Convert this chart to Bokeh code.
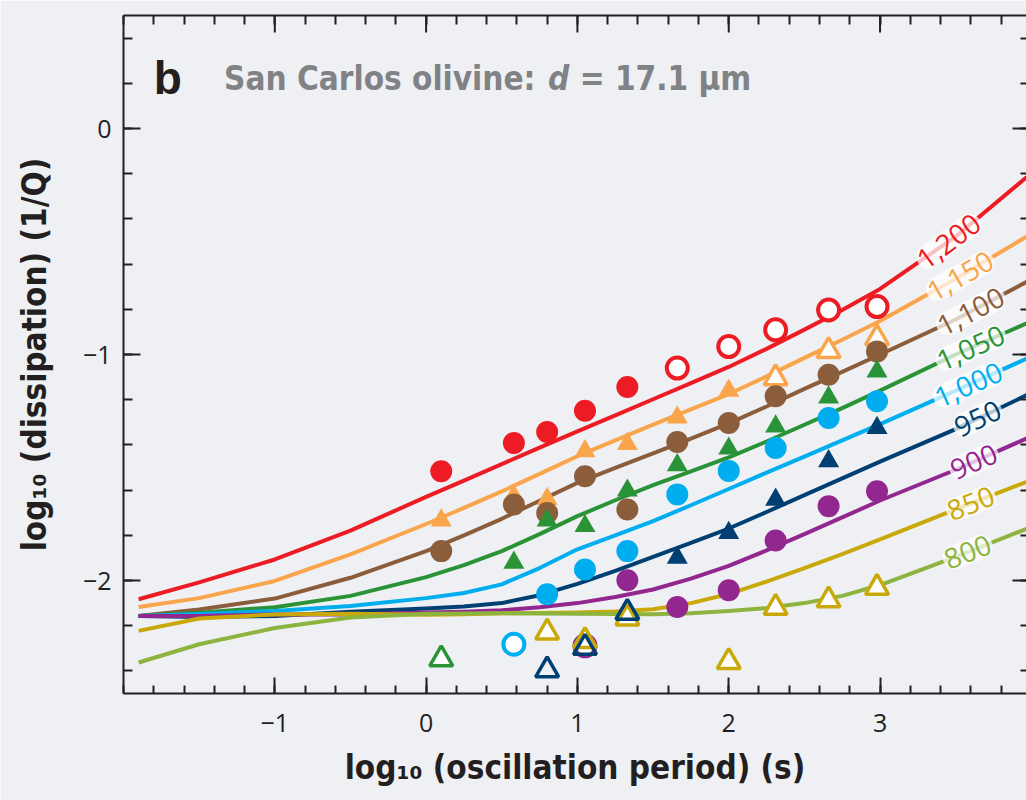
import numpy as np
from bokeh.plotting import figure
from bokeh.models import FixedTicker, Label, LinearAxis, Range1d
from bokeh.embed import file_html
from bokeh.resources import INLINE

BG = "#eff0f4"
INK = "#231f20"
COND = "Liberation Sans Narrow, DejaVu Sans Condensed, Roboto, sans-serif"

# ---- model curves (log10 period vs log10 1/Q) ----
curve_x = [-1.9, -1.5, -1.0, -0.5, 0.0, 0.25, 0.5, 0.75, 1.0, 1.25, 1.5, 1.75,
           2.0, 2.25, 2.5, 2.75, 3.0, 3.5, 3.97]
temps = ["1,200", "1,150", "1,100", "1,050", "1,000", "950", "900", "850", "800"]
colors = ["#ed1c24", "#f9a54b", "#8b5d3b", "#2b9337", "#00aeef",
          "#003f72", "#92278f", "#c9a90a", "#8cb43f"]
curve_1200 = [-2.083, -2.008, -1.907, -1.779, -1.630, -1.558, -1.485, -1.412, -1.340, -1.269,
              -1.198, -1.127, -1.055, -0.975, -0.890, -0.803, -0.710, -0.478, -0.215]
curve_1150 = [-2.117, -2.078, -2.002, -1.884, -1.750, -1.679, -1.606, -1.528, -1.450, -1.380,
              -1.310, -1.243, -1.175, -1.097, -1.015, -0.935, -0.852, -0.665, -0.478]
curve_1100 = [-2.157, -2.128, -2.080, -1.988, -1.870, -1.800, -1.727, -1.647, -1.568, -1.502,
              -1.437, -1.372, -1.305, -1.230, -1.152, -1.077, -1.000, -0.845, -0.678]
curve_1050 = [-2.157, -2.143, -2.118, -2.068, -1.985, -1.932, -1.870, -1.795, -1.715, -1.645,
              -1.578, -1.517, -1.455, -1.385, -1.311, -1.237, -1.160, -1.000, -0.862]
curve_1000 = [-2.157, -2.148, -2.135, -2.113, -2.078, -2.055, -2.017, -1.945, -1.862, -1.800,
              -1.737, -1.667, -1.595, -1.523, -1.452, -1.380, -1.308, -1.160, -1.018]
curve_950 = [-2.157, -2.161, -2.157, -2.138, -2.124, -2.115, -2.100, -2.065, -2.015, -1.957,
             -1.895, -1.834, -1.770, -1.697, -1.622, -1.548, -1.474, -1.330, -1.180]
curve_900 = [-2.157, -2.157, -2.150, -2.150, -2.142, -2.138, -2.132, -2.118, -2.100, -2.073,
             -2.040, -1.992, -1.935, -1.867, -1.795, -1.721, -1.646, -1.510, -1.371]
curve_850 = [-2.223, -2.168, -2.150, -2.147, -2.152, -2.149, -2.145, -2.144, -2.142, -2.137,
             -2.127, -2.100, -2.060, -2.005, -1.945, -1.883, -1.818, -1.685, -1.563]
curve_800 = [-2.363, -2.282, -2.210, -2.164, -2.147, -2.146, -2.145, -2.146, -2.147, -2.148,
             -2.149, -2.145, -2.135, -2.122, -2.100, -2.068, -2.020, -1.895, -1.771]
curves = [curve_1200, curve_1150, curve_1100, curve_1050, curve_1000,
          curve_950, curve_900, curve_850, curve_800]

# ---- measurements ----
red_fill_x = [0.10, 0.58, 0.80, 1.05, 1.33]
red_fill_y = [-1.517, -1.392, -1.343, -1.249, -1.144]
red_open_x = [1.66, 2.00, 2.31, 2.66, 2.98]
red_open_y = [-1.060, -0.965, -0.891, -0.803, -0.788]
orange_fill_x = [0.10, 0.58, 0.80, 1.05, 1.33, 1.66, 2.00]
orange_fill_y = [-1.734, -1.627, -1.639, -1.428, -1.396, -1.278, -1.160]
orange_open_x = [2.31, 2.66, 2.98]
orange_open_y = [-1.105, -0.984, -0.928]
brown_x = [0.10, 0.58, 0.80, 1.05, 1.33, 1.66, 2.00, 2.31, 2.66, 2.98]
brown_y = [-1.870, -1.664, -1.701, -1.539, -1.686, -1.387, -1.303, -1.185, -1.090, -0.987]
green_open_x = [0.10]
green_open_y = [-2.348]
green_fill_x = [0.58, 0.80, 1.05, 1.33, 1.66, 2.00, 2.31, 2.66, 2.98]
green_fill_y = [-1.921, -1.734, -1.759, -1.602, -1.490, -1.416, -1.318, -1.190, -1.075]
cyan_open_x = [0.58]
cyan_open_y = [-2.282]
cyan_fill_x = [0.80, 1.05, 1.33, 1.66, 2.00, 2.31, 2.66, 2.98]
cyan_fill_y = [-2.061, -1.951, -1.870, -1.619, -1.515, -1.414, -1.281, -1.207]
purple_open_x = [1.05]
purple_open_y = [-2.289]
purple_fill_x = [1.33, 1.66, 2.00, 2.31, 2.66, 2.98]
purple_fill_y = [-1.999, -2.117, -2.043, -1.823, -1.671, -1.605]
gold_open_x = [0.80, 1.05, 1.33, 2.00, 2.31, 2.66, 2.98]
gold_open_y = [-2.230, -2.267, -2.167, -2.360, -2.120, -2.087, -2.032]
navy_open_x = [0.80, 1.05, 1.33]
navy_open_y = [-2.397, -2.297, -2.142]
navy_fill_x = [1.66, 2.00, 2.31, 2.66, 2.98]
navy_fill_y = [-1.899, -1.789, -1.642, -1.472, -1.325]

x_major = [-1, 0, 1, 2, 3]
y_major = [-2, -1, 0]

# label placement along each curve (layout only)
label_at = [3.455, 3.53, 3.60, 3.60, 3.585, 3.645, 3.62, 3.60, 3.58]

X0, X1, Y0, Y1 = -2.0, 3.968, -2.5, 0.5
p = figure(width=1026, height=800, x_range=Range1d(X0, X1), y_range=Range1d(Y0, Y1),
           output_backend="svg", toolbar_location=None,
           x_axis_location=None, y_axis_location=None,
           min_border_left=123, min_border_right=0, min_border_top=15, min_border_bottom=107,
           background_fill_color=BG, border_fill_color=BG)
p.outline_line_color = None
for g in p.grid:
    g.visible = False

x_minor = [round(v, 2) for v in np.arange(-2.0, 4.01, 0.2)]
y_minor = [round(v, 2) for v in np.arange(-2.4, 0.41, 0.2)]


def style(ax, tin, min_in):
    ax.axis_line_color = INK
    ax.axis_line_width = 2
    ax.major_tick_line_color = INK
    ax.minor_tick_line_color = INK
    ax.major_tick_line_width = 2
    ax.minor_tick_line_width = 2
    ax.major_tick_in = tin
    ax.major_tick_out = 0
    ax.minor_tick_in = min_in
    ax.minor_tick_out = 0


def fmt(v):
    return ("\u2212" + str(abs(v))) if v < 0 else str(v)


bottom = LinearAxis(ticker=FixedTicker(ticks=x_major, minor_ticks=x_minor))
style(bottom, 16, 8)
bottom.major_label_overrides = {v: fmt(v) for v in x_major}
bottom.major_label_text_font = "Open Sans"
bottom.major_label_text_font_size = "25px"
bottom.major_label_text_color = INK
bottom.major_label_standoff = 20
bottom.axis_label = "log\u2081\u2080 (oscillation period) (s)"
bottom.axis_label_text_font = COND
bottom.axis_label_text_font_style = "bold"
bottom.axis_label_text_font_size = "33px"
bottom.axis_label_text_color = INK
bottom.axis_label_standoff = 13
p.add_layout(bottom, "below")

left = LinearAxis(ticker=FixedTicker(ticks=y_major, minor_ticks=y_minor))
style(left, 17, 9)
left.major_label_overrides = {v: fmt(v) for v in y_major}
left.major_label_text_font = "Open Sans"
left.major_label_text_font_size = "25px"
left.major_label_text_color = INK
left.major_label_standoff = 12
left.axis_label = "log\u2081\u2080 (dissipation) (1/Q)"
left.axis_label_text_font = COND
left.axis_label_text_font_style = "bold"
left.axis_label_text_font_size = "33px"
left.axis_label_text_color = INK
left.axis_label_standoff = 26
p.add_layout(left, "left")

# top and right frame edges: minor ticks from axes (no labels), major ticks as rays
top = LinearAxis(ticker=FixedTicker(ticks=[], minor_ticks=x_minor))
style(top, 17, 9)
p.add_layout(top, "above")

right = LinearAxis(ticker=FixedTicker(ticks=[], minor_ticks=y_minor))
style(right, 14, 6)
right.axis_line_color = None
p.add_layout(right, "right")

p.ray(x=x_major, y=[Y1] * len(x_major), length=17, length_units="screen",
      angle=-np.pi / 2, line_color=INK, line_width=2)
p.ray(x=[X1] * len(y_major), y=y_major, length=14, length_units="screen",
      angle=np.pi, line_color=INK, line_width=2)

# curves
for cy, col in zip(curves, colors):
    p.line(curve_x, cy, line_color=col, line_width=4, line_join="round")

FS, TS, OS, OTS = 22, 21, 21, 23
p.scatter(orange_fill_x, orange_fill_y, marker="triangle", size=TS, fill_color=colors[1], line_color=None)
p.scatter(red_fill_x, red_fill_y, marker="circle", size=FS, fill_color=colors[0], line_color=None)
p.scatter(red_open_x, red_open_y, marker="circle", size=OS, fill_color="white", line_color=colors[0], line_width=4)
p.scatter(orange_open_x, orange_open_y, marker="triangle", size=OTS, fill_color="white", line_color=colors[1], line_width=3.5)
p.scatter(brown_x, brown_y, marker="circle", size=FS, fill_color=colors[2], line_color=None)
p.scatter(green_fill_x, green_fill_y, marker="triangle", size=TS, fill_color=colors[3], line_color=None)
p.scatter(green_open_x, green_open_y, marker="triangle", size=OTS, fill_color="white", line_color=colors[3], line_width=3.5)
p.scatter(cyan_fill_x, cyan_fill_y, marker="circle", size=FS, fill_color=colors[4], line_color=None)
p.scatter(cyan_open_x, cyan_open_y, marker="circle", size=OS, fill_color="white", line_color=colors[4], line_width=4)
p.scatter(navy_fill_x, navy_fill_y, marker="triangle", size=TS, fill_color=colors[5], line_color=None)
p.scatter(purple_fill_x, purple_fill_y, marker="circle", size=FS, fill_color=colors[6], line_color=None)
p.scatter(purple_open_x, purple_open_y, marker="circle", size=OS, fill_color="white", line_color=colors[6], line_width=4)
p.scatter(gold_open_x, gold_open_y, marker="triangle", size=OTS, fill_color="white", line_color=colors[7], line_width=3.5)
p.scatter(navy_open_x, navy_open_y, marker="triangle", size=OTS, fill_color=None, line_color=colors[5], line_width=3.5)

# curve labels, rotated along the curves
sx = 151.5  # px per x unit (for angle only)
sy = 226.5
for lab, col, cy, xl in zip(temps, colors, curves, label_at):
    yl = float(np.interp(xl, curve_x, cy))
    y2 = float(np.interp(xl + 0.2, curve_x, cy))
    y1 = float(np.interp(xl - 0.2, curve_x, cy))
    ang = np.degrees(np.arctan(((y2 - y1) / 0.4) * sy / sx))
    p.add_layout(Label(x=xl, y=yl, text=lab, angle=ang, angle_units="deg",
                       text_align="center", text_baseline="middle",
                       text_font="Open Sans", text_font_size="28px", text_color=col,
                       background_fill_color="white", background_fill_alpha=0.72,
                       padding=2, border_radius=15))

# panel title
p.add_layout(Label(x=-1.80, y=0.223, text="b", text_font="Liberation Sans",
                   text_font_style="bold", text_font_size="46px", text_color=INK,
                   text_baseline="alphabetic"))
GRAY = "#808285"
p.add_layout(Label(x=-1.335, y=0.223, text="San Carlos olivine:", text_font=COND,
                   text_font_style="bold", text_font_size="33px", text_color=GRAY,
                   text_baseline="alphabetic"))
p.add_layout(Label(x=0.805, y=0.223, text="d", text_font=COND,
                   text_font_style="bold italic", text_font_size="33px", text_color=GRAY,
                   text_baseline="alphabetic"))
p.add_layout(Label(x=1.015, y=0.223, text="= 17.1 \u03bcm", text_font=COND,
                   text_font_style="bold", text_font_size="33px", text_color=GRAY,
                   text_baseline="alphabetic"))

open("out.html", "w").write(file_html(p, INLINE))
